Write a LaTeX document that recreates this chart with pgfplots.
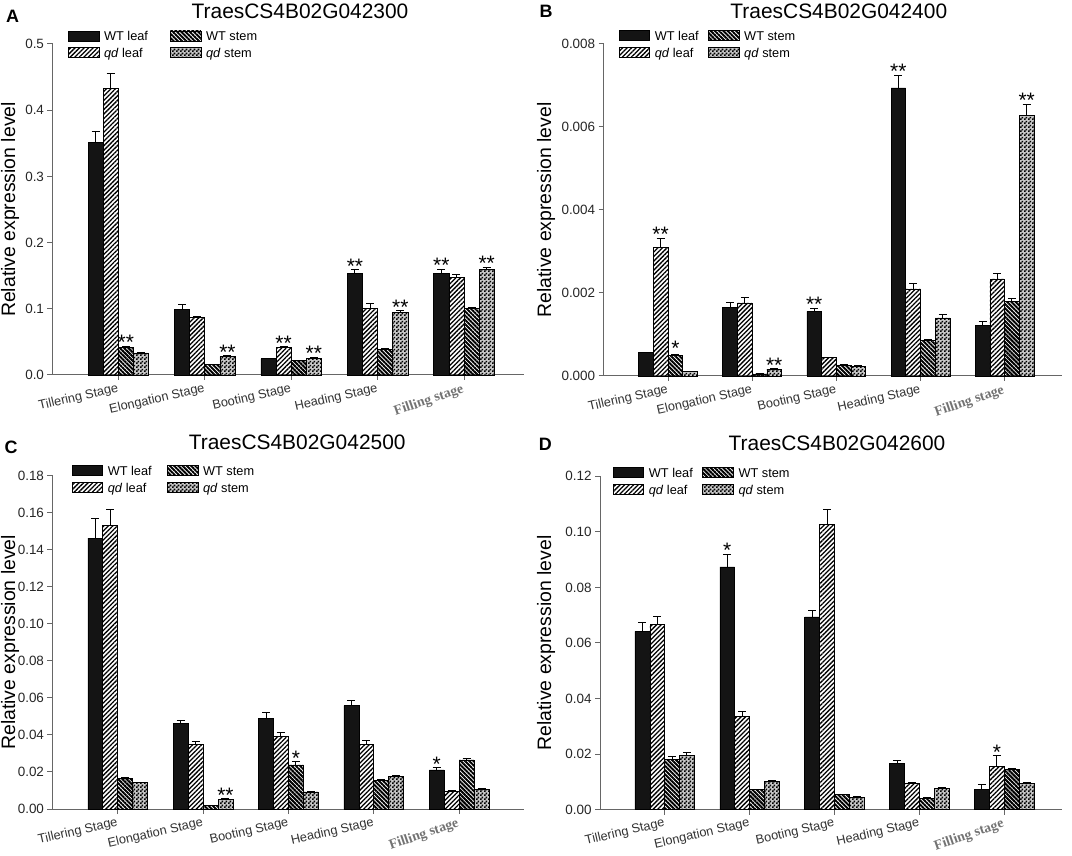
\documentclass[border=0pt]{standalone}
\usepackage{fontspec}
\setmainfont{Liberation Sans}
\newfontfamily\seriffont{Liberation Serif}
\usepackage{pgfplots}
\pgfplotsset{compat=1.18}
\usetikzlibrary{patterns,patterns.meta}

\pgfdeclarepattern{
  name=finechecker,
  type=uncolored,
  bottom left={\pgfpointorigin},
  top right={\pgfpoint{4bp}{4bp}},
  tile size={\pgfpoint{4bp}{4bp}},
  code={
    \pgfpathrectangle{\pgfpointorigin}{\pgfpoint{2bp}{2bp}}
    \pgfpathrectangle{\pgfpoint{2bp}{2bp}}{\pgfpoint{2bp}{2bp}}
    \pgfusepath{fill}
  }
}

\newcommand\tickfont{\fontsize{13.5}{15}\selectfont}
\newcommand\xfont{\fontsize{12.8}{14}\selectfont}
\newcommand\legfont{\fontsize{12.8}{14}\selectfont}
\newcommand\titlefont{\fontsize{21}{24}\selectfont}
\newcommand\labelfont{\fontsize{19.5}{22}\selectfont}
\newcommand\starfont{\fontsize{21}{21}\selectfont}
\newcommand\letterfont{\fontsize{18}{20}\selectfont\bfseries}
\newcommand\fillinglabel{\rotatebox{6}{\fontsize{14}{15}\seriffont\bfseries\color{black!55}Filling stage}}

\pgfplotsset{
  legimg/.style={legend image code/.code={\draw[##1] (0bp,0bp) rectangle (30.5bp,10bp);}},
  wtleaf/.style={bar shift=-0.2625, fill=black!92, draw=black, line width=0.6bp, legimg},
  qdleaf/.style={bar shift=-0.0875, draw=black, line width=0.6bp,
     pattern={Lines[angle=45,distance=3.2bp,line width=1.3bp]}, legimg},
  wtstem/.style={bar shift=0.0875, draw=black, line width=0.6bp,
     pattern={Lines[angle=-45,distance=3bp,line width=2bp]}, legimg},
  qdstem/.style={bar shift=0.2625, draw=black, line width=0.6bp,
     preaction={fill=black!22}, pattern=finechecker, legimg},
  errs/.style={error bars/.cd, y dir=plus, y explicit,
     error bar style={line width=1bp, black},
     error mark options={rotate=90, line width=1bp, mark size=4bp, black}},
  stars/.style={draw=none, fill=none, forget plot, bar shift=0pt, nodes near coords,
     point meta=explicit symbolic,
     every node near coord/.style={anchor=base, yshift=-3.6bp, font=\starfont, inner sep=0pt, text=black}},
  panel/.style={
    ybar, bar width=0.175,
    scale only axis, clip=false,
    axis x line*=bottom, axis y line*=left,
    axis line style={black!60, line width=1bp},
    tick style={black!60, line width=1bp},
    tick align=outside, major tick length=5bp,
    ymin=0, scaled y ticks=false,
    xtick={0,1,2,3,4},
    xticklabels={Tillering Stage, Elongation Stage, Booting Stage, Heading Stage, \fillinglabel},
    xticklabel style={rotate=13, anchor=north east, font=\xfont, text=black!80, inner sep=2bp},
    yticklabel style={font=\tickfont, text=black!85, /pgf/number format/fixed, /pgf/number format/fixed zerofill},
    /pgf/number format/assume math mode=true,
    ylabel={Relative expression level},
    ylabel style={font=\labelfont, at={(axis description cs:0,0.5)}, anchor=center},
    title style={anchor=center, font=\titlefont},
    legend columns=2, transpose legend,
    legend style={at={(axis description cs:0,1)}, anchor=north west,
      draw=none, fill=none, inner sep=0pt, outer sep=0pt, row sep=4bp,
      font=\legfont, nodes={inner sep=1bp}, cells={anchor=base west},
      /tikz/every odd column/.style={column sep=4bp}},
  },
}

\begin{document}
\begin{tikzpicture}
\path[use as bounding box] (0,0) rectangle (1072bp,856bp);

% ---------------- A ----------------
\begin{axis}[panel, at={(52.5bp,481bp)}, anchor=south west,
  width=471.5bp, height=331bp,
  xmin=-0.761, xmax=4.694, ymax=0.5,
  ytick={0,0.1,0.2,0.3,0.4,0.5},
  yticklabel style={/pgf/number format/precision=1},
  ylabel style={yshift=42.3bp},
  title={TraesCS4B02G042300},
  title style={at={(axis description cs:0.525,1)}, yshift=27bp},
  legend style={xshift=15.5bp, yshift=13.3bp, /tikz/every even column/.style={column sep=21bp}}]
\addplot[wtleaf, errs] coordinates {(0,0.351) +- (0,0.0175) (1,0.0995) +- (0,0.0065) (2,0.0245) +- (0,0.001) (3,0.1535) +- (0,0.006) (4,0.154) +- (0,0.006)};
\addplot[qdleaf, errs] coordinates {(0,0.4325) +- (0,0.0235) (1,0.0875) +- (0,0.0015) (2,0.0415) +- (0,0.001) (3,0.100) +- (0,0.0075) (4,0.147) +- (0,0.0055)};
\addplot[wtstem, errs] coordinates {(0,0.042) +- (0,0.0012) (1,0.016) +- (0,0.0005) (2,0.0215) +- (0,0.0008) (3,0.039) +- (0,0.0008) (4,0.100) +- (0,0.0025)};
\addplot[qdstem, errs] coordinates {(0,0.0335) +- (0,0.0008) (1,0.028) +- (0,0.0015) (2,0.0245) +- (0,0.0025) (3,0.095) +- (0,0.002) (4,0.1595) +- (0,0.0035)};
\legend{WT leaf, \textit{qd} leaf, WT stem, \textit{qd} stem}
\addplot[stars] coordinates {(2.7375,0.1595) [**] (3.7375,0.160) [**] (1.9125,0.0425) [**] (0.0875,0.0432) [**] (1.2625,0.0295) [**] (2.2625,0.027) [**] (3.2625,0.097) [**] (4.2625,0.163) [**]};
\end{axis}

% ---------------- B ----------------
\begin{axis}[panel, at={(603.7bp,480bp)}, anchor=south west,
  width=458.3bp, height=332bp,
  xmin=-0.764, xmax=4.682, ymax=0.008,
  ytick={0,0.002,0.004,0.006,0.008},
  yticklabel style={/pgf/number format/precision=3},
  ylabel style={yshift=57.7bp},
  title={TraesCS4B02G042400},
  title style={at={(axis description cs:0.513,1)}, yshift=27bp},
  legend style={xshift=15bp, yshift=14bp, /tikz/every even column/.style={column sep=8.4bp}}]
\addplot[wtleaf, errs] coordinates {(0,0.000568) +- (0,0.00001) (1,0.00165) +- (0,0.00011) (2,0.00156) +- (0,0.00007) (3,0.00694) +- (0,0.00031) (4,0.00122) +- (0,0.0001)};
\addplot[qdleaf, errs] coordinates {(0,0.00309) +- (0,0.00023) (1,0.00176) +- (0,0.00013) (2,0.00044) +- (0,0.00001) (3,0.0021) +- (0,0.00012) (4,0.00234) +- (0,0.00012)};
\addplot[wtstem, errs] coordinates {(0,0.000496) +- (0,0.00001) (1,0.00005) +- (0,0) (2,0.000264) +- (0,0.00001) (3,0.00085) +- (0,0.00002) (4,0.00179) +- (0,0.00007)};
\addplot[qdstem, errs] coordinates {(0,0.000112) +- (0,0) (1,0.000168) +- (0,0.00001) (2,0.000232) +- (0,0.00001) (3,0.0014) +- (0,0.00009) (4,0.00628) +- (0,0.00027)};
\legend{WT leaf, \textit{qd} leaf, WT stem, \textit{qd} stem}
\addplot[stars] coordinates {(1.7375,0.00163) [**] (2.7375,0.00725) [**] (-0.0875,0.00332) [**] (0.0875,0.00058) [*] (1.2625,0.000178) [**] (4.2625,0.00655) [**]};
\end{axis}

% ---------------- C ----------------
\begin{axis}[panel, at={(52.5bp,47bp)}, anchor=south west,
  width=471.5bp, height=333.3bp,
  xmin=-0.764, xmax=4.76, ymax=0.18,
  ytick={0,0.02,0.04,0.06,0.08,0.10,0.12,0.14,0.16,0.18},
  yticklabel style={/pgf/number format/precision=2},
  ylabel style={yshift=42.3bp},
  title={TraesCS4B02G042500},
  title style={at={(axis description cs:0.519,1)}, yshift=27bp},
  legend style={xshift=19.2bp, yshift=10.4bp, /tikz/every even column/.style={column sep=14.3bp}}]
\addplot[wtleaf, errs] coordinates {(0,0.1463) +- (0,0.0105) (1,0.0463) +- (0,0.0016) (2,0.049) +- (0,0.0032) (3,0.0558) +- (0,0.0027) (4,0.0211) +- (0,0.0012)};
\addplot[qdleaf, errs] coordinates {(0,0.1532) +- (0,0.0084) (1,0.0349) +- (0,0.0015) (2,0.0392) +- (0,0.0022) (3,0.0347) +- (0,0.0022) (4,0.0095) +- (0,0.0003)};
\addplot[wtstem, errs] coordinates {(0,0.0166) +- (0,0.0003) (1,0.0018) +- (0,0) (2,0.0238) +- (0,0.0018) (3,0.0155) +- (0,0.0003) (4,0.0265) +- (0,0.0007)};
\addplot[qdstem, errs] coordinates {(0,0.0142) +- (0,0.0003) (1,0.0054) +- (0,0.0003) (2,0.0092) +- (0,0.0002) (3,0.0176) +- (0,0.0004) (4,0.0108) +- (0,0.0003)};
\legend{WT leaf, \textit{qd} leaf, WT stem, \textit{qd} stem}
\addplot[stars] coordinates {(3.7375,0.0223) [*] (2.0875,0.0256) [*] (1.2625,0.0057) [**]};
\end{axis}

% ---------------- D ----------------
\begin{axis}[panel, at={(600bp,46.3bp)}, anchor=south west,
  width=462bp, height=333.4bp,
  xmin=-0.762, xmax=4.68, ymax=0.12,
  ytick={0,0.02,0.04,0.06,0.08,0.10,0.12},
  yticklabel style={/pgf/number format/precision=2},
  ylabel style={yshift=53.8bp},
  title={TraesCS4B02G042600},
  title style={at={(axis description cs:0.513,1)}, yshift=27bp},
  legend style={xshift=12.8bp, yshift=9.3bp, /tikz/every even column/.style={column sep=8.6bp}}]
\addplot[wtleaf, errs] coordinates {(0,0.0642) +- (0,0.003) (1,0.0874) +- (0,0.0046) (2,0.0694) +- (0,0.0022) (3,0.0168) +- (0,0.001) (4,0.0074) +- (0,0.0016)};
\addplot[qdleaf, errs] coordinates {(0,0.0666) +- (0,0.003) (1,0.0336) +- (0,0.0016) (2,0.1028) +- (0,0.0054) (3,0.0096) +- (0,0.0003) (4,0.0157) +- (0,0.0037)};
\addplot[wtstem, errs] coordinates {(0,0.0182) +- (0,0.0008) (1,0.0072) +- (0,0.0002) (2,0.0054) +- (0,0.0002) (3,0.0041) +- (0,0.0002) (4,0.0144) +- (0,0.0006)};
\addplot[qdstem, errs] coordinates {(0,0.0196) +- (0,0.001) (1,0.0101) +- (0,0.0003) (2,0.0044) +- (0,0.0002) (3,0.0077) +- (0,0.0002) (4,0.0096) +- (0,0.0003)};
\legend{WT leaf, \textit{qd} leaf, WT stem, \textit{qd} stem}
\addplot[stars] coordinates {(0.7375,0.092) [*] (3.9125,0.0194) [*]};
\end{axis}

\node[font=\letterfont] at (12.7bp,840bp) {A};
\node[font=\letterfont] at (546bp,844.3bp) {B};
\node[font=\letterfont] at (11bp,409bp) {C};
\node[font=\letterfont] at (545.4bp,411.3bp) {D};
\end{tikzpicture}
\end{document}
